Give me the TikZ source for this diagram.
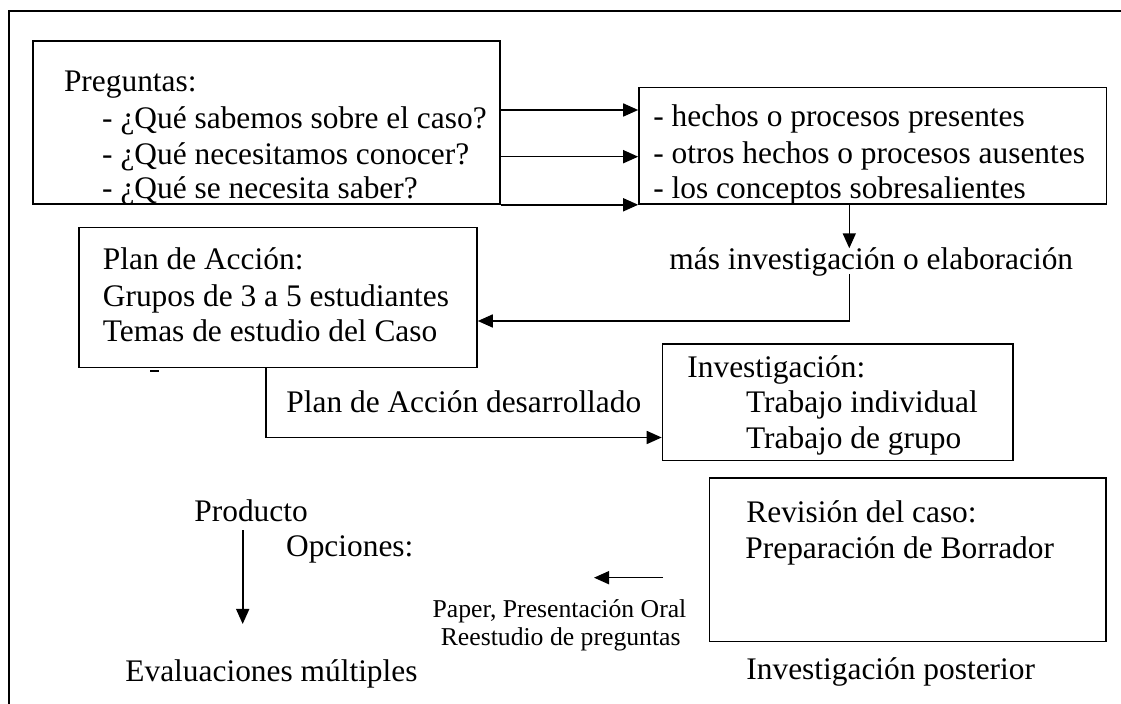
\documentclass[tikz,border=0pt]{standalone}
\usepackage{fontspec}
\setmainfont{Liberation Serif}
\usetikzlibrary{arrows.meta}

\newcommand\flowtextstyle{\fontsize{15.7}{18}\selectfont}
\newcommand\flowsmallstyle{\fontsize{12.85}{14}\selectfont}
\newcommand\flowline[3]{
  \node[flowtext] (#1) at (#2) {#3} ;
}

\begin{document}
\begin{tikzpicture}[x=0.5pt, y=-0.5pt,
    flowbox/.style={draw, line width=0.8pt, inner sep=0pt},
    flowtext/.style={anchor=base west, inner sep=0pt, font=\flowtextstyle},
    flowsmall/.style={anchor=base, inner sep=0pt, font=\flowsmallstyle},
    flowarrow/.style={line width=0.8pt, -{Triangle[length=7.5pt, width=6.5pt]}}]
    \useasboundingbox (0,0) rectangle (1121,704) ;
    \draw[line width=0.6pt] (9,704) -- (9,11) -- (1121,11) ;
    % boxes
    \node[flowbox, minimum width=233.5pt, minimum height=81.5pt] (preg) at (266.5,122.5) {} ;
    \node[flowbox, minimum width=233.75pt, minimum height=58.15pt] (hechos) at (872.75,145.85) {} ;
    \node[flowbox, minimum width=199pt, minimum height=70pt] (plan) at (278,297.7) {} ;
    \node[flowbox, minimum width=175.25pt, minimum height=58.35pt] (inv) at (837.75,402.35) {} ;
    \node[flowbox, minimum width=198.25pt, minimum height=81.7pt] (rev) at (907.75,560) {} ;
    % texts
    \flowline{preg0}{63.6,91.7}{Preguntas:}
    \flowline{preg1}{101.8,128.3}{- ¿Qué sabemos sobre el caso?}
    \flowline{preg2}{101.8,165}{- ¿Qué necesitamos conocer?}
    \flowline{preg3}{101.8,199}{- ¿Qué se necesita saber?}
    \flowline{hechos1}{653,126.7}{- hechos o procesos presentes}
    \flowline{hechos2}{653,163.3}{- otros hechos o procesos ausentes}
    \flowline{hechos3}{653,198.3}{- los conceptos sobresalientes}
    \flowline{mas}{669,269.3}{más investigación o elaboración}
    \flowline{plan0}{102.5,270}{Plan de Acción:}
    \flowline{plan1}{102.5,306.7}{Grupos de 3 a 5 estudiantes}
    \flowline{plan2}{102.5,341.7}{Temas de estudio del Caso}
    \flowline{desarrollado}{286,413}{Plan de Acción desarrollado}
    \flowline{inv0}{687,377.7}{Investigación:}
    \flowline{inv1}{745.7,412.7}{Trabajo individual}
    \flowline{inv2}{745.7,448.3}{Trabajo de grupo}
    \flowline{rev0}{746,522.7}{Revisión del caso:}
    \flowline{rev1}{745,558.3}{Preparación de Borrador}
    \flowline{posterior}{746,680}{Investigación posterior}
    \flowline{producto}{194,521.7}{Producto}
    \flowline{opciones}{285.7,557}{Opciones:}
    \flowline{evaluaciones}{125,682}{Evaluaciones múltiples}
    \node[flowsmall] (paper) at (559.5,617.3) {Paper, Presentación Oral} ;
    \node[flowsmall] (reestudio) at (560.7,645.7) {Reestudio de preguntas} ;
    \draw[line width=0.8pt] (150,371) -- (159,371) ;
    % connectors
    \coordinate (turn) at (849.3,321) ;
    \coordinate (bend) at (266,437.5) ;
    \coordinate (prodtip) at (242.7,624) ;
    \coordinate (optstart) at (663,577.7) ;
    \coordinate (opttip) at (594,577.7) ;
    \draw[flowarrow] (preg.east |- 0,110) -- (hechos.west |- 0,110) ;
    \draw[flowarrow] (preg.east |- 0,156.7) -- (hechos.west |- 0,156.7) ;
    \draw[flowarrow] (preg.south east) -- (hechos.south west) ;
    \draw[flowarrow] (hechos.south -| turn) -- (turn |- 0,248.3) ;
    \draw[flowarrow] (turn |- 0,274) -- (turn) -- (turn -| plan.east) ;
    \draw[flowarrow] (plan.south -| bend) -- (bend) -- (bend -| inv.west) ;
    \draw[flowarrow] ([yshift=-4pt]producto.south -| prodtip) -- (prodtip) ;
    \draw[flowarrow] (optstart) -- (opttip) ;
\end{tikzpicture}
\end{document}
